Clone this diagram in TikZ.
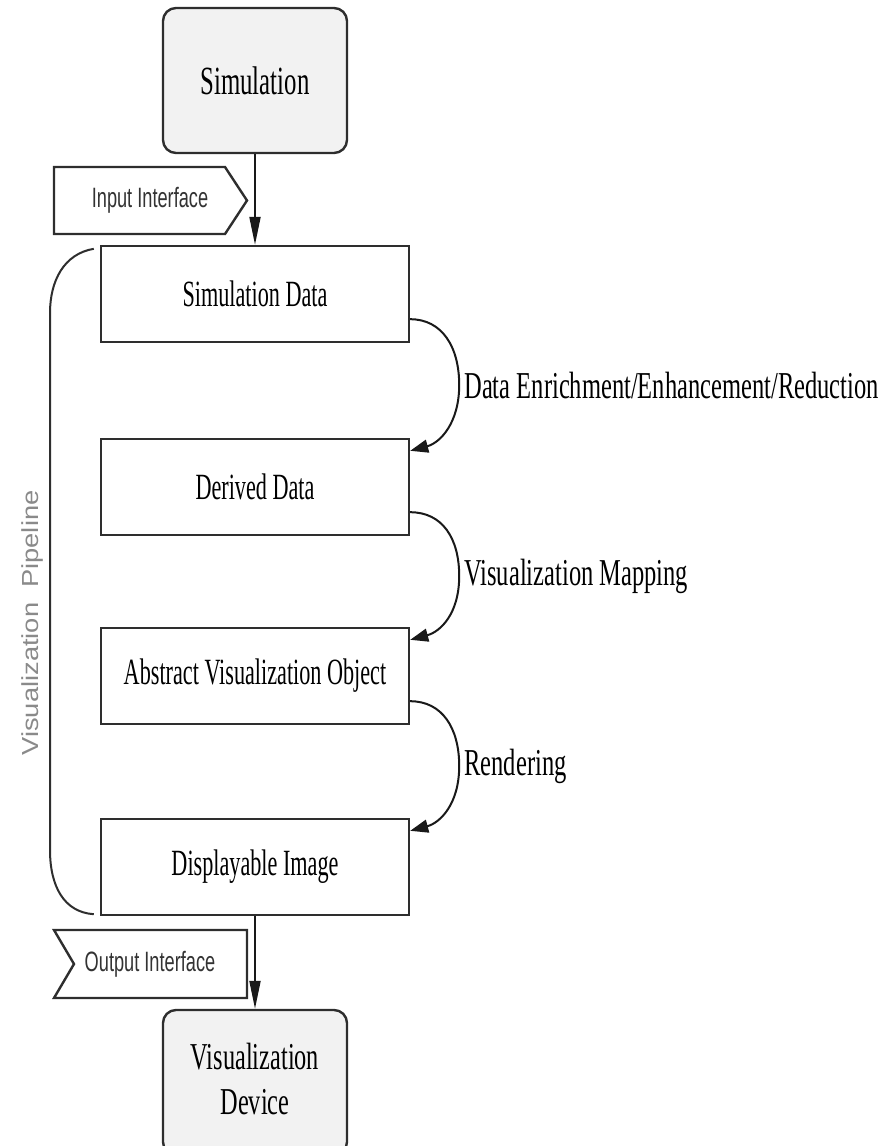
\documentclass[tikz,border=0pt]{standalone}
\usepackage{fontspec}
\setmainfont{Liberation Serif}
\newfontfamily\arialf{Liberation Sans}
\usetikzlibrary{arrows.meta,calc}
\definecolor{boxfill}{HTML}{F2F2F2}
\definecolor{edge}{HTML}{2E2E2E}
\definecolor{pipegray}{HTML}{8A8A8A}
\newcommand\sxt[3]{\scalebox{#1}[1]{\fontsize{#2}{#2}\selectfont #3}}
\begin{document}
\begin{tikzpicture}[x=1pt,y=-1pt,
  rbox/.style={draw=edge, fill=boxfill, line width=2.4pt, rounded corners=13pt,
    minimum width=184pt, minimum height=145pt, inner sep=0pt},
  pbox/.style={draw=edge, fill=white, line width=2.4pt,
    minimum width=308pt, minimum height=96pt, inner sep=0pt},
  iface/.style={draw=edge, line width=2.4pt, line join=miter},
  arr/.style={draw=black!90, line width=2pt, -{Triangle[length=28pt,width=11pt]}},
  carr/.style={draw=black!90, line width=2pt, -{Triangle[length=18pt,width=13pt]}},
  brk/.style={draw=edge, line width=2pt},
  lbl/.style={inner sep=0pt, anchor=west}
]
\useasboundingbox (0,0) rectangle (895,1146);

% top and bottom rounded boxes
\node[rbox] (sim) at (255,80.5) {\sxt{0.62}{40}{Simulation}};
\node[rbox, minimum height=145pt] (dev) at (255,1082.5)
  {\scalebox{0.64}[1]{\fontsize{38}{45}\selectfont\begin{tabular}{@{}c@{}}Visualization\\Device\end{tabular}}};

% pipeline boxes
\node[pbox] (sd) at (255,294) {\sxt{0.6}{37}{Simulation Data}};
\node[pbox] (dd) at (255,487) {\sxt{0.6}{37}{Derived Data}};
\node[pbox] (av) at (255,676) {\sxt{0.6}{37}{Abstract Visualization Object}};
\node[pbox] (di) at (255,867) {\sxt{0.6}{37}{Displayable Image}};

% interfaces
\draw[iface] (54,167) -- (225,167) -- (247,200.5) -- (225,234) -- (54,234) -- cycle;
\node[inner sep=0pt, text=black!80] (inif) at (150,200.5) {\scalebox{0.65}[1]{\arialf\fontsize{28}{28}\selectfont Input Interface}};
\draw[iface] (54,930) -- (247,930) -- (247,998) -- (54,998) -- (74,964) -- cycle;
\node[inner sep=0pt, text=black!80] (outif) at (150,964) {\scalebox{0.65}[1]{\arialf\fontsize{28}{28}\selectfont Output Interface}};

% straight arrows
\draw[arr] (sim.south) -- (sd.north);
\draw[arr] (di.south) -- (dev.north);

% curved arrows
\coordinate (a1) at ([yshift=24pt]sd.south east);
\coordinate (b1) at ([yshift=-13pt]dd.north east);
\coordinate (m1) at ($(a1)!0.5!(b1)+(49,0)$);
\coordinate (a2) at ([yshift=24pt]dd.south east);
\coordinate (b2) at ([yshift=-13pt]av.north east);
\coordinate (m2) at ($(a2)!0.5!(b2)+(49,0)$);
\coordinate (a3) at ([yshift=24pt]av.south east);
\coordinate (b3) at ([yshift=-13pt]di.north east);
\coordinate (m3) at ($(a3)!0.5!(b3)+(49,0)$);
\draw[carr] (a1) .. controls +(32,0) and +(0,-38) .. (m1) .. controls +(0,38) and +(30,-8) .. (b1);
\draw[carr] (a2) .. controls +(32,0) and +(0,-38) .. (m2) .. controls +(0,38) and +(30,-8) .. (b2);
\draw[carr] (a3) .. controls +(32,0) and +(0,-38) .. (m3) .. controls +(0,38) and +(30,-8) .. (b3);
\node[lbl] (l1) at ([xshift=5pt]m1) {\sxt{0.645}{38}{Data Enrichment/Enhancement/Reduction}};
\node[lbl] (l2) at ([xshift=5pt]m2) {\sxt{0.645}{38}{Visualization Mapping}};
\node[lbl] (l3) at ([xshift=5pt]m3) {\sxt{0.645}{38}{Rendering}};

% pipeline bracket
\coordinate (pt) at ([xshift=-6pt,yshift=-4pt]sd.north west);
\coordinate (pb) at ([xshift=-6pt,yshift=2pt]di.south west);
\draw[brk] (pt) .. controls +(-30,5) and +(0,-32) .. (50,313) -- (50,850) .. controls +(0,36) and +(-30,-2) .. (pb);
\node[rotate=90, inner sep=0pt, text=pipegray] (vp) at (33,623)
  {\scalebox{1}[0.85]{\arialf\fontsize{27.3}{27.3}\selectfont Visualization\ \ Pipeline}};
\end{tikzpicture}
\end{document}
